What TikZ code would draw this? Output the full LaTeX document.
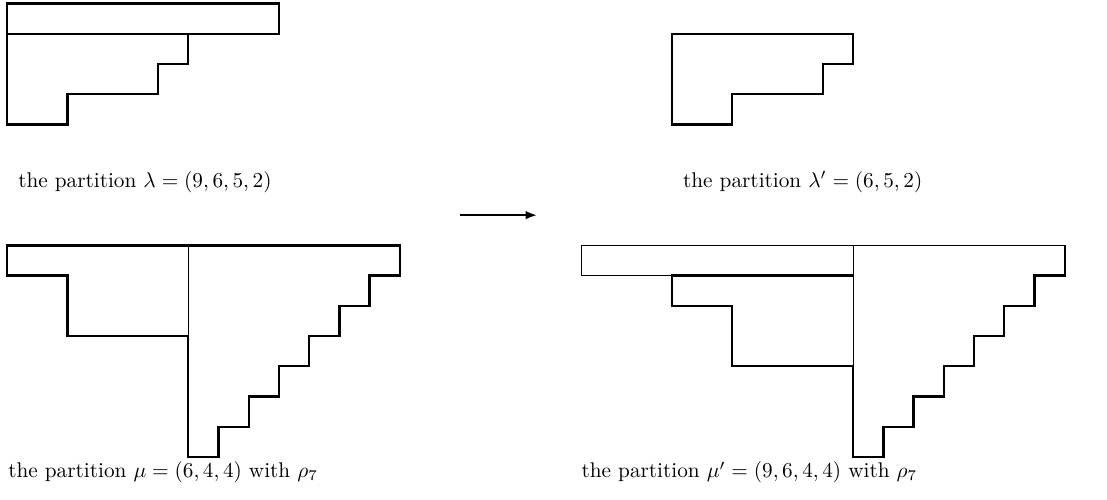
\documentclass[tikz,border=0pt]{standalone}
\usetikzlibrary{arrows.meta}
\begin{document}
\begin{tikzpicture}[x=0.5cm,y=-0.5cm,
  thick line/.style={line width=1.1pt, line join=miter},
  thin line/.style={line width=0.6pt},
  lbl/.style={anchor=base west, inner sep=0pt}]
\useasboundingbox (-0.232,-0.12) rectangle (36.40,16.42);
% lambda
\draw[thick line] (0,0) rectangle (9,1);
\draw[thick line] (0,1) -- (0,4) -- (2,4) -- (2,3) -- (5,3) -- (5,2) -- (6,2) -- (6,1);
% lambda'
\draw[thick line] (22,1) -- (28,1) -- (28,2) -- (27,2) -- (27,3) -- (24,3) -- (24,4) -- (22,4) -- cycle;
% mu with rho_7
\draw[thick line] (0,8) -- (13,8) -- (13,9) -- (12,9) -- (12,10) -- (11,10) -- (11,11) -- (10,11) -- (10,12) -- (9,12) -- (9,13) -- (8,13) -- (8,14) -- (7,14) -- (7,15) -- (6,15) -- (6,11) -- (2,11) -- (2,9) -- (0,9) -- cycle;
\draw[thin line] (6,8) -- (6,11);
% mu' with rho_7
\draw[thin line] (19,8) rectangle (28,9);
\draw[thin line] (28,8) -- (35,8);
\draw[thick line] (35,8) -- (35,9) -- (34,9) -- (34,10) -- (33,10) -- (33,11) -- (32,11) -- (32,12) -- (31,12) -- (31,13) -- (30,13) -- (30,14) -- (29,14) -- (29,15) -- (28,15) -- (28,12) -- (24,12) -- (24,10) -- (22,10) -- (22,9) -- (28,9);
\draw[thin line] (28,8) -- (28,12);
% arrow
\coordinate (a1) at (15,7);
\coordinate (a2) at (17.55,7);
\draw[line width=1.1pt, -{Latex[length=5.5pt,width=4pt]}] (a1) -- (a2);
% labels
\node[lbl] (l1) at (0.36,6.07) {the partition $\lambda=(9,6,5,2)$};
\node[lbl] (l2) at (22.36,6.07) {the partition $\lambda'=(6,5,2)$};
\node[lbl] (l3) at (0.03,15.69) {the partition $\mu=(6,4,4)$ with $\rho_7$};
\node[lbl] (l4) at (19.0,15.69) {the partition $\mu'=(9,6,4,4)$ with $\rho_7$};
\end{tikzpicture}
\end{document}
